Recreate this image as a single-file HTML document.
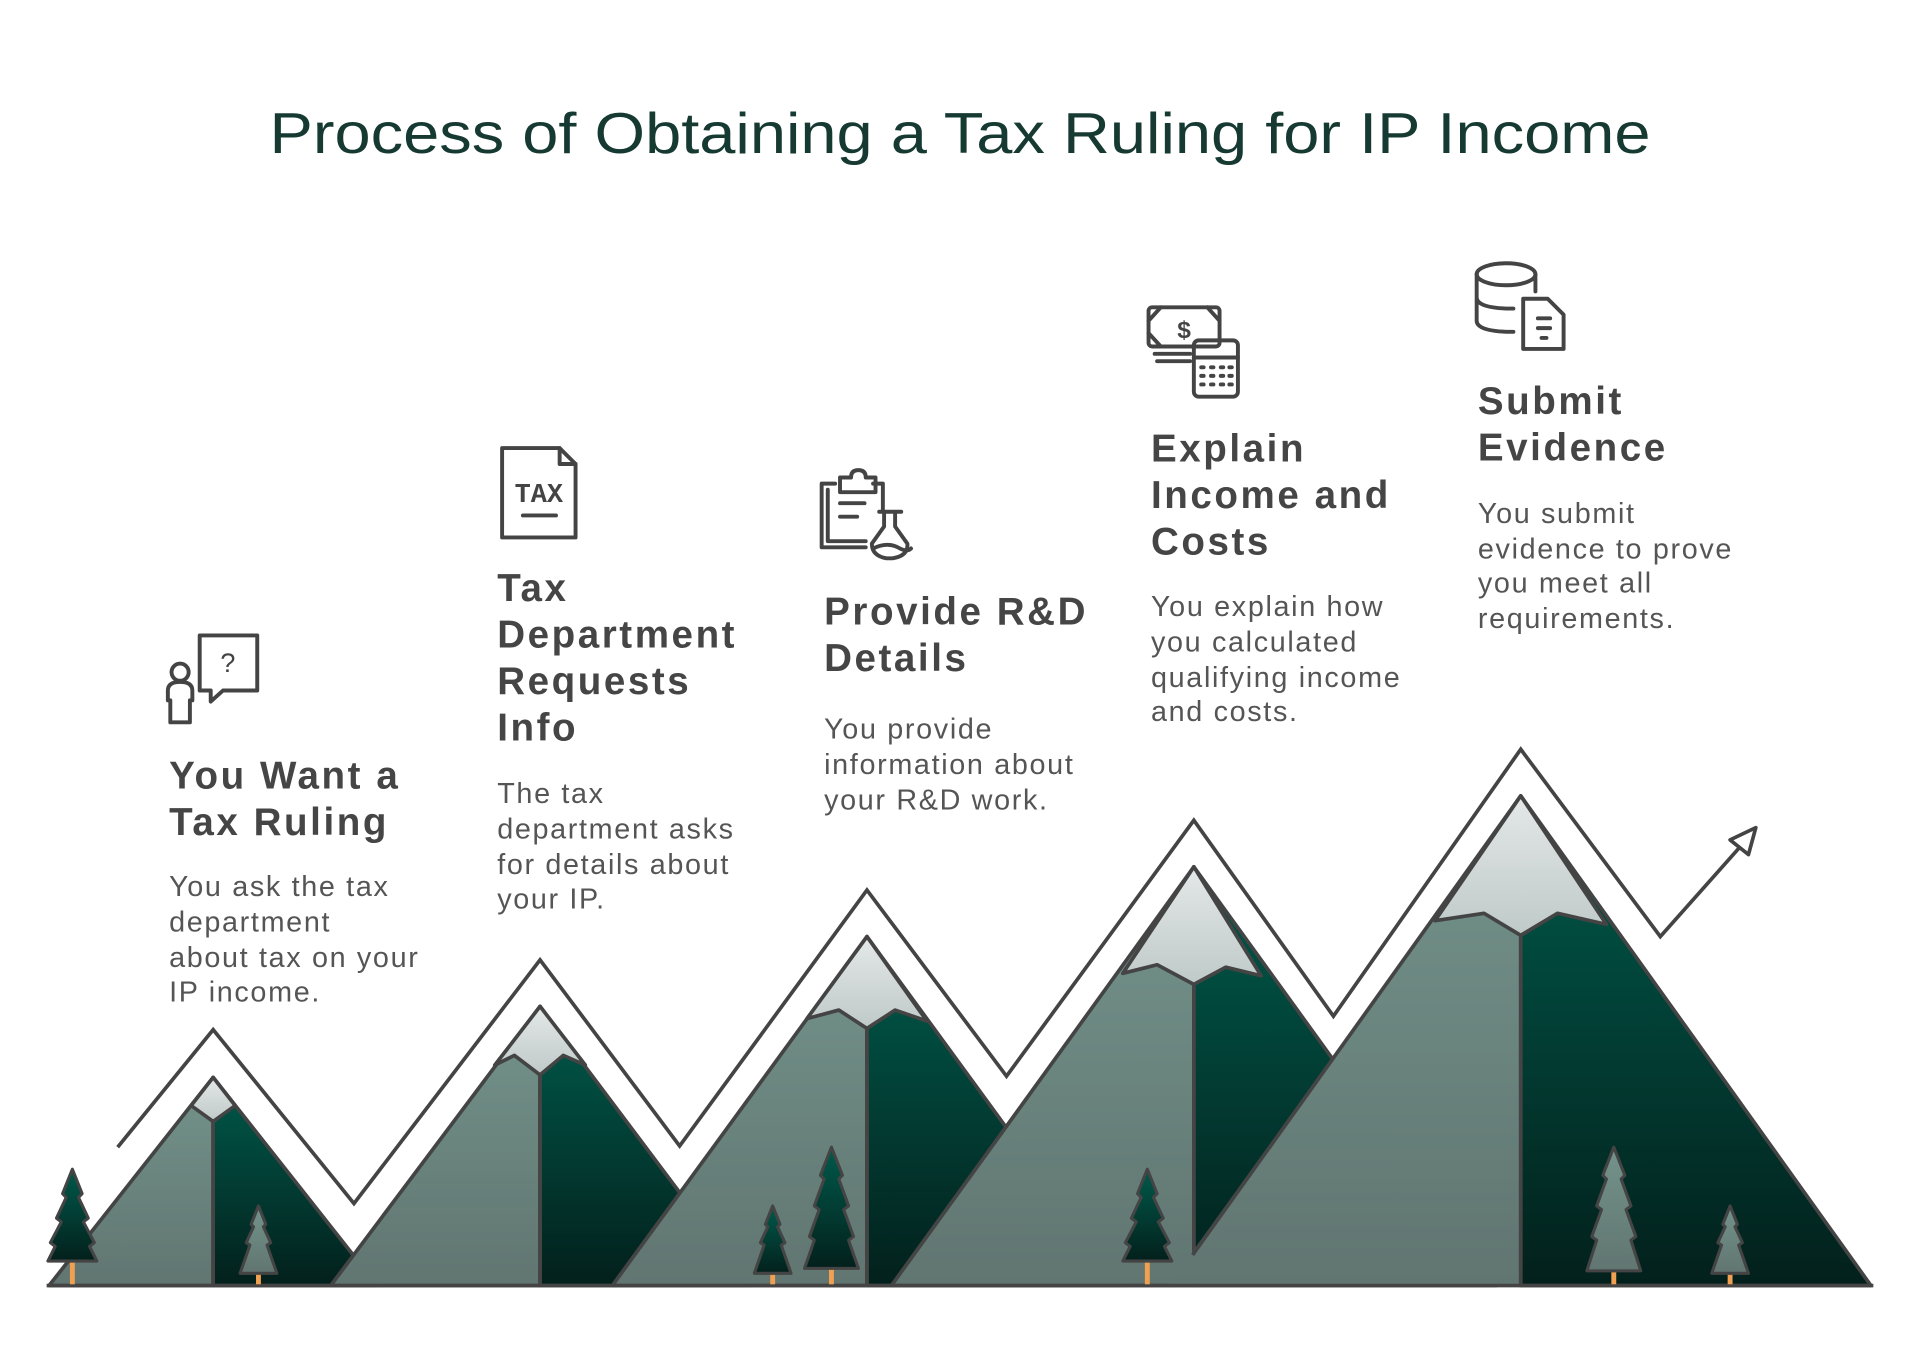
<!DOCTYPE html>
<html><head><meta charset="utf-8"><style>
html,body{margin:0;padding:0;background:#fff;}
svg{display:block;}
.h{font-family:"Liberation Sans",sans-serif;font-weight:bold;font-size:31.5px;fill:#454545;letter-spacing:2.1px;}
.b{font-family:"Liberation Sans",sans-serif;font-size:23.5px;fill:#555;letter-spacing:1.35px;}
.ic{fill:none;stroke:#444;stroke-width:3.2;stroke-linecap:round;stroke-linejoin:round;}
</style></head><body>
<svg width="1920" height="1359" viewBox="0 0 1568 1110" xmlns="http://www.w3.org/2000/svg">
<defs>
<linearGradient id="lt" x1="0" y1="0" x2="0" y2="1"><stop offset="0" stop-color="#73938b"/><stop offset="1" stop-color="#617571"/></linearGradient>
<linearGradient id="dk" x1="0" y1="0" x2="0" y2="1"><stop offset="0" stop-color="#005a4b"/><stop offset="1" stop-color="#03201c"/></linearGradient>
<linearGradient id="sn" x1="0" y1="0" x2="0" y2="1"><stop offset="0" stop-color="#e4e8e8"/><stop offset="1" stop-color="#bfcac8"/></linearGradient>
<linearGradient id="tl" x1="0" y1="0" x2="0" y2="1"><stop offset="0" stop-color="#73938b"/><stop offset="1" stop-color="#617571"/></linearGradient>
</defs>
<text x="784" y="125" text-anchor="middle" font-family="Liberation Sans,sans-serif" font-size="47" fill="#163a32" textLength="1128" lengthAdjust="spacingAndGlyphs">Process of Obtaining a Tax Ruling for IP Income</text>

<g stroke="#444" stroke-width="3" stroke-linejoin="round">
<polygon points="174,880 40,1050 174,1050" fill="url(#lt)"/>
<polygon points="174,880 308,1050 174,1050" fill="url(#dk)"/>
<polygon points="174,880 156,903 174,916 192,903" fill="url(#sn)"/>
<line x1="174" y1="916" x2="174" y2="1050"/>
<polygon points="441,822 270,1050 441,1050" fill="url(#lt)"/>
<polygon points="441,822 612,1050 441,1050" fill="url(#dk)"/>
<polygon points="441,822 404,870 420,862 441,878 460,862 478,870" fill="url(#sn)"/>
<line x1="441" y1="878" x2="441" y2="1050"/>
<polygon points="708,765 500,1050 708,1050" fill="url(#lt)"/>
<polygon points="708,765 916,1050 708,1050" fill="url(#dk)"/>
<polygon points="708,765 659,832 685,825 708,840 731,825 757,834" fill="url(#sn)"/>
<line x1="708" y1="840" x2="708" y2="1050"/>
<polygon points="975,708 728,1050 975,1050" fill="url(#lt)"/>
<polygon points="975,708 1222,1050 975,1050" fill="url(#dk)"/>
<polygon points="975,708 917,795 945,788 975,804 1001,790 1030,797" fill="url(#sn)"/>
<line x1="975" y1="804" x2="975" y2="1050"/>
<polygon points="1242,650 954,1050 1242,1050" fill="url(#lt)" stroke="none"/>
<polyline points="1242,650 974,1025" fill="none"/>
<polygon points="1242,650 1528,1050 1242,1050" fill="url(#dk)"/>
<polygon points="1242,650 1172,752 1212,746 1242,764 1272,746 1312,755" fill="url(#sn)"/>
<line x1="1242" y1="764" x2="1242" y2="1050"/>
<line x1="38" y1="1050" x2="1530" y2="1050"/>
</g>

<polyline points="96,937 174,841 289,983 441,784 555,936 708,727 822,879 975,670 1089,830 1242,612 1356,765 1428,684" fill="none" stroke="#444" stroke-width="3" stroke-linejoin="miter"/>
<polygon points="1434,676 1413,686 1428,698" fill="#fff" stroke="#444" stroke-width="3" stroke-linejoin="round"/>

<g stroke="#444" stroke-width="2.5" stroke-linejoin="round">
<rect x="57" y="1030" width="4" height="19" fill="#f0a050" stroke="none"/>
<polygon points="59,955 67,975 64,978 72,995 68,998 77,1015 73,1018 79,1030 39,1030 45,1018 41,1015 50,998 46,995 54,978 51,975" fill="url(#dk)"/>
<rect x="209" y="1040" width="4" height="9" fill="#f0a050" stroke="none"/>
<polygon points="211,985 217,1000 215,1002 221,1015 218,1017 226,1040 196,1040 204,1017 201,1015 207,1002 205,1000" fill="url(#tl)"/>
<rect x="629" y="1040" width="4" height="9" fill="#f0a050" stroke="none"/>
<polygon points="631,985 637,1000 635,1002 641,1015 638,1017 646,1040 616,1040 624,1017 621,1015 627,1002 625,1000" fill="url(#dk)"/>
<rect x="677" y="1036" width="4" height="13" fill="#f0a050" stroke="none"/>
<polygon points="679,937 688,960 685,963 693,985 689,988 697,1010 693,1013 701,1036 657,1036 665,1013 661,1010 669,988 665,985 673,963 670,960" fill="url(#dk)"/>
<rect x="935" y="1030" width="4" height="19" fill="#f0a050" stroke="none"/>
<polygon points="937,955 945,975 942,978 950,995 946,998 955,1015 951,1018 957,1030 917,1030 923,1018 919,1015 928,998 924,995 932,978 929,975" fill="url(#dk)"/>
<rect x="1316" y="1038" width="4" height="11" fill="#f0a050" stroke="none"/>
<polygon points="1318,937 1327,960 1324,963 1332,985 1328,988 1336,1010 1332,1013 1340,1038 1296,1038 1304,1013 1300,1010 1308,988 1304,985 1312,963 1309,960" fill="url(#tl)"/>
<rect x="1411" y="1040" width="4" height="9" fill="#f0a050" stroke="none"/>
<polygon points="1413,985 1419,1000 1417,1002 1423,1015 1420,1017 1428,1040 1398,1040 1406,1017 1403,1015 1409,1002 1407,1000" fill="url(#tl)"/>
</g>

<g class="ic">
<circle cx="147" cy="549" r="7"/>
<path d="M139,590 v-18 h-2 v-8 q0,-7 10,-7 q10,0 10,7 v8 h-2 v18 z"/>
<path d="M163,519 h47 v45 h-28 l-10,9 v-9 h-9 z"/>
</g>
<text x="186" y="549" text-anchor="middle" font-family="Liberation Sans,sans-serif" font-size="22" fill="#444">?</text>
<g class="ic">
<path d="M410,366 h47 l13,13 v60 h-60 z"/>
<path d="M457,366 v13 h13"/>
<line x1="427" y1="421" x2="454" y2="421"/>
</g>
<text x="440" y="410" text-anchor="middle" font-family="Liberation Mono,monospace" font-size="22" font-weight="bold" fill="#444">TAX</text>
<g class="ic">
<path d="M682,395 h-11 v52 h36"/><path d="M676,400 v42 h31"/>
<path d="M713,395 h8 v22"/>
<path d="M686,390 h9 q0,-6 6,-6 q6,0 6,6 h8 v12 h-29 z"/>
<line x1="686" y1="411" x2="706" y2="411"/><line x1="686" y1="422" x2="700" y2="422"/>
<path d="M718,418 h18 M722,418 v12 l-10,14 q0,10 12,12 h5 q13,-2 12,-12 l-10,-14 v-12"/>
<path d="M713,448 q12,-6 22,0 q6,3 9,0"/>
</g>
<g class="ic">
<rect x="938" y="251" width="58" height="32" rx="3"/>
<path d="M938,262 l10,-11 M938,272 l10,11 M996,262 l-10,-11"/>
<line x1="943" y1="289" x2="972" y2="289"/><line x1="945" y1="295" x2="972" y2="295"/>
<rect x="975" y="278" width="36" height="46" rx="4"/>
<line x1="975" y1="292" x2="1011" y2="292"/>
<path d="M981,300 h2 M989,300 h2 M997,300 h2 M1004,300 h2 M981,307 h2 M989,307 h2 M997,307 h2 M1004,307 h2 M981,314 h2 M989,314 h2 M997,314 h2 M1004,314 h2"/>
</g>
<text x="967" y="276" text-anchor="middle" font-family="Liberation Sans,sans-serif" font-size="20" font-weight="bold" fill="#444">$</text>
<g class="ic">
<ellipse cx="1230" cy="224" rx="24" ry="9"/>
<path d="M1206,224 v38 q0,8 24,9 h6 M1206,243 q0,8 24,9 h6 M1254,224 v14"/>
<path d="M1244,244 h20 l13,13 v28 h-33 z"/>
<line x1="1256" y1="260" x2="1266" y2="260"/><line x1="1256" y1="268" x2="1266" y2="268"/><line x1="1259" y1="276" x2="1263" y2="276"/>
</g>

<text class="h" x="138" y="644">You Want a</text>
<text class="h" x="138" y="682">Tax Ruling</text>
<text class="b" x="138" y="732">You ask the tax</text>
<text class="b" x="138" y="761">department</text>
<text class="b" x="138" y="790">about tax on your</text>
<text class="b" x="138" y="818">IP income.</text>

<text class="h" x="406" y="491">Tax</text>
<text class="h" x="406" y="529">Department</text>
<text class="h" x="406" y="567">Requests</text>
<text class="h" x="406" y="605">Info</text>
<text class="b" x="406" y="656">The tax</text>
<text class="b" x="406" y="685">department asks</text>
<text class="b" x="406" y="714">for details about</text>
<text class="b" x="406" y="742">your IP.</text>

<text class="h" x="673" y="510">Provide R&amp;D</text>
<text class="h" x="673" y="548">Details</text>
<text class="b" x="673" y="603">You provide</text>
<text class="b" x="673" y="632">information about</text>
<text class="b" x="673" y="661">your R&amp;D work.</text>

<text class="h" x="940" y="377">Explain</text>
<text class="h" x="940" y="415">Income and</text>
<text class="h" x="940" y="453">Costs</text>
<text class="b" x="940" y="503">You explain how</text>
<text class="b" x="940" y="532">you calculated</text>
<text class="b" x="940" y="561">qualifying income</text>
<text class="b" x="940" y="589">and costs.</text>

<text class="h" x="1207" y="338">Submit</text>
<text class="h" x="1207" y="376">Evidence</text>
<text class="b" x="1207" y="427">You submit</text>
<text class="b" x="1207" y="456">evidence to prove</text>
<text class="b" x="1207" y="484">you meet all</text>
<text class="b" x="1207" y="513">requirements.</text>
</svg>
</body></html>
